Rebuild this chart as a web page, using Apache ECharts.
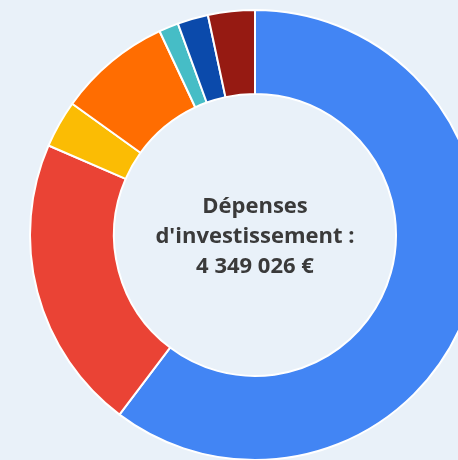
<!DOCTYPE html>
<html><head><meta charset="utf-8">
<script src="https://cdn.jsdelivr.net/npm/echarts@6/dist/echarts.min.js"></script>
<style>html,body{margin:0;padding:0;background:#e9f1f9;}#c{width:458px;height:460px;}</style>
</head><body><div id="c"></div>
<script>
const categories = ["Poste 1","Poste 2","Poste 3","Poste 4","Poste 5","Poste 6","Poste 7"];
const values = [2622000, 923000, 148000, 353000, 61000, 96000, 146000];
const colors = ["#4285f4","#ea4335","#fbbc04","#ff6d01","#46bdc6","#0b4aab","#961a12"];
const centerLines = ["Dépenses","d'investissement :","4 349 026 €"];

const chart = echarts.init(document.getElementById('c'));
chart.setOption({
  backgroundColor: '#e9f1f9',
  animation: false,
  graphic: [{
    type: 'text', x: 255, y: 237, z: 100,
    style: {
      text: centerLines.join('\n'),
      x: 0, y: 0,
      textAlign: 'center', textVerticalAlign: 'middle',
      font: 'bold 22px "Open Sans", sans-serif',
      lineHeight: 30, fill: '#3a3a3a'
    }
  }],
  series: [{
    type: 'pie',
    center: [255, 235],
    radius: [141, 225],
    startAngle: 90,
    clockwise: true,
    label: {show: false},
    labelLine: {show: false},
    itemStyle: {borderColor: '#ffffff', borderWidth: 2},
    data: categories.map((n, i) => ({name: n, value: values[i], itemStyle: {color: colors[i]}}))
  }]
});
</script></body></html>
